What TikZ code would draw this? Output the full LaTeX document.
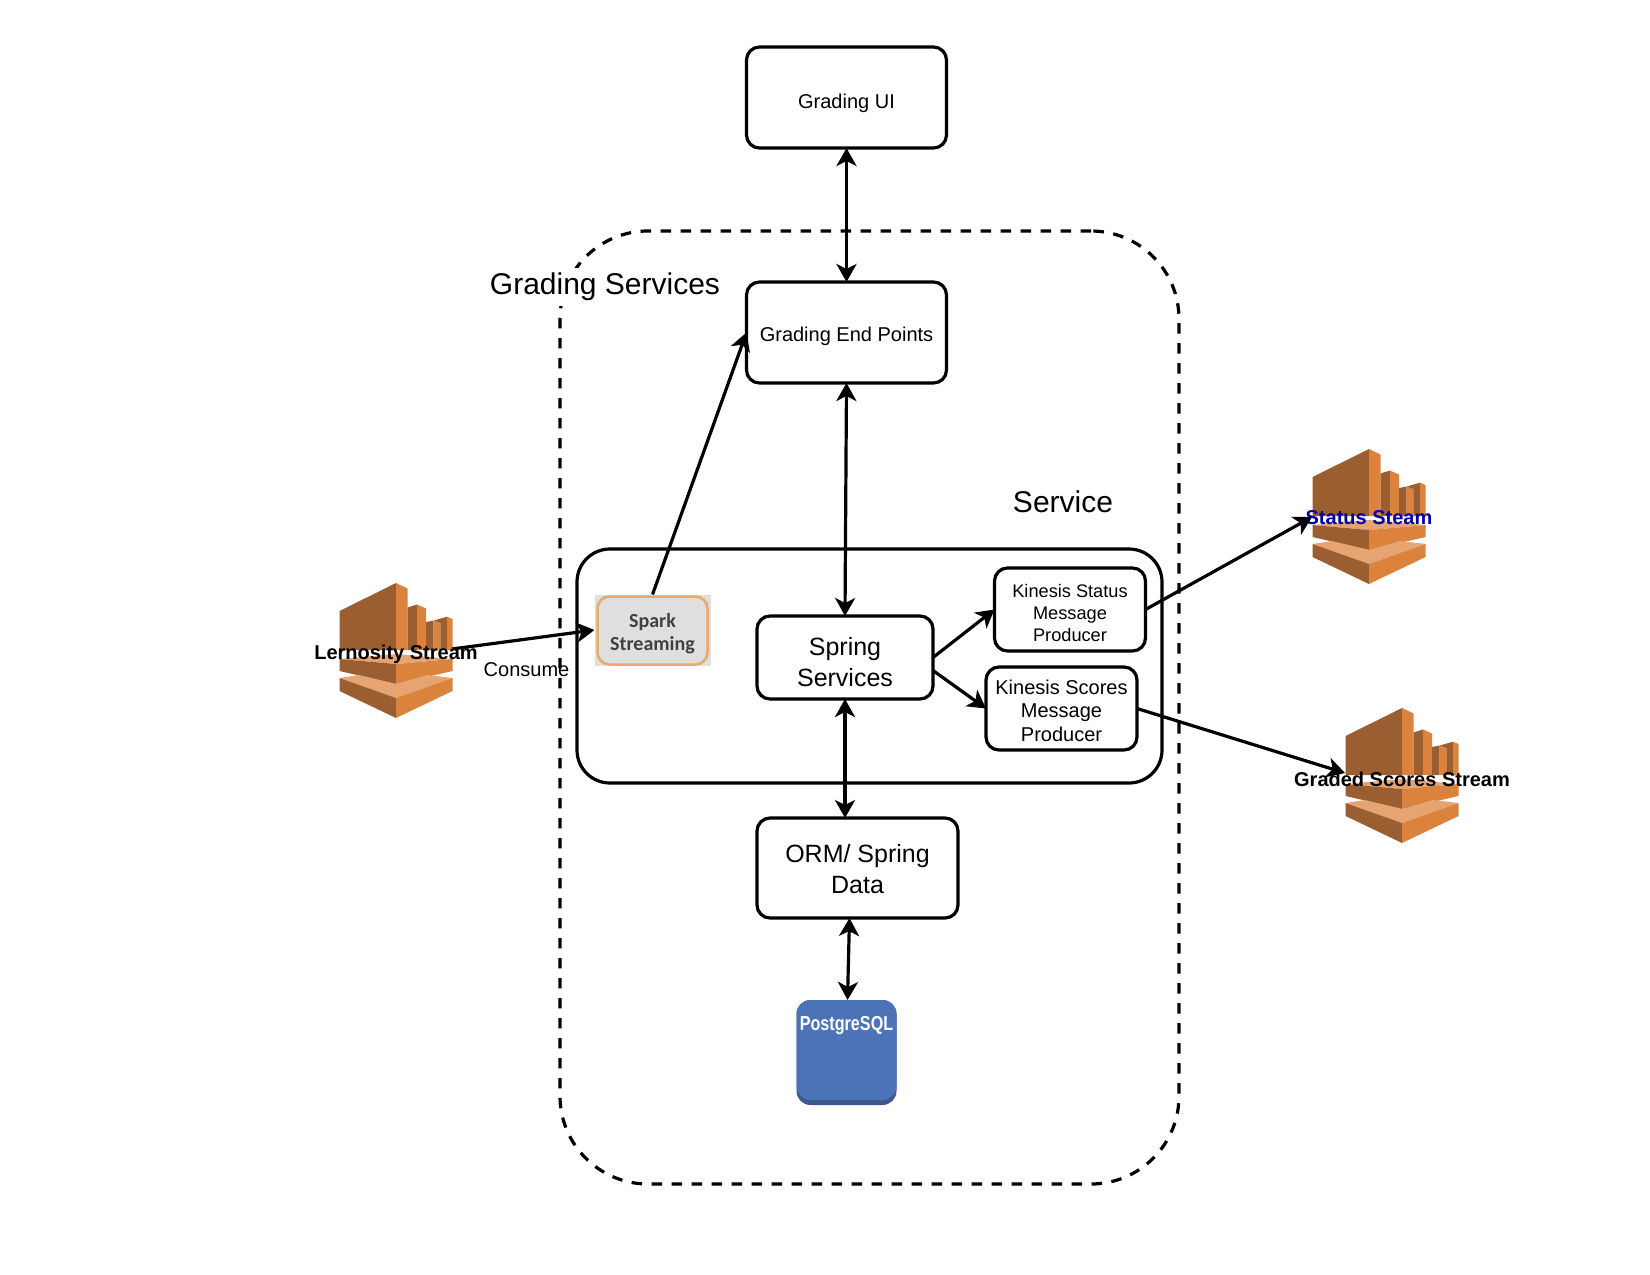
\documentclass[tikz,border=0pt]{standalone}
\usepackage{fontspec}
\setmainfont{Liberation Sans}
\newfontfamily\sparkfont{Carlito}
\newfontfamily\narrowfont[FakeStretch=0.8]{Liberation Sans}
\usetikzlibrary{positioning, arrows.meta}
\definecolor{kinesisdark}{RGB}{154,94,48}
\definecolor{kinesisorange}{RGB}{219,130,60}
\definecolor{kinesislight}{RGB}{229,164,114}
\definecolor{pgblue}{RGB}{76,115,184}
\definecolor{pgshade}{RGB}{60,88,140}
\definecolor{sparkgray}{RGB}{223,223,223}
\definecolor{sparkline}{RGB}{232,170,106}
\definecolor{statusblue}{RGB}{0,0,156}

\tikzset{
    kinesis/.pic={
        \fill[kinesisdark] (-56.5,28) -- (0,0) -- (0,67) -- (-56.5,67) -- cycle;
        \fill[kinesisorange] (0,0) -- (11.5,5.5) -- (11.5,67) -- (0,67) -- cycle;
        \fill[kinesisdark] (11.5,24.5) -- (21,21.5) -- (21,67) -- (11.5,67) -- cycle;
        \fill[kinesisorange] (21,21.5) -- (30,25.5) -- (30,67) -- (21,67) -- cycle;
        \fill[kinesisdark] (30,39) -- (37.7,37.5) -- (37.7,67) -- (30,67) -- cycle;
        \fill[kinesisorange] (37.7,37.5) -- (44.3,40) -- (44.3,67) -- (37.7,67) -- cycle;
        \fill[kinesisdark] (37.7,37.5) -- (51,33.7) -- (51,67) -- (44.3,67) -- (44.3,40) -- cycle;
        \fill[kinesisorange] (51,33.7) -- (56.5,36) -- (56.5,67) -- (51,67) -- cycle;
        % middle layer
        \fill[kinesislight] (-56.5,76) -- (0,71) -- (56.5,76) -- (0,81) -- cycle;
        \fill[kinesisdark] (-56.5,76) -- (0,81) -- (0,101) -- (-56.5,88) -- cycle;
        \fill[kinesisorange] (0,81) -- (56.5,76) -- (56.5,88) -- (0,101) -- cycle;
        % lower layer
        \fill[kinesislight] (-56.5,95) -- (-37,92) -- (0,101) -- (31,92) -- (56.5,95) -- (0,115) -- cycle;
        \fill[kinesisdark] (-56.5,95) -- (0,115) -- (0,135) -- (-56.5,108) -- cycle;
        \fill[kinesisorange] (0,115) -- (56.5,95) -- (56.5,108) -- (0,135) -- cycle;
    }
}

\begin{document}
\begin{tikzpicture}[
    x=1pt, y=-1pt,
    box/.style={rectangle, draw, line width=3.2pt, rounded corners=13pt, align=center, inner sep=0pt, outer sep=0pt},
    bigbox/.style={box, minimum width=200pt, minimum height=101pt, font=\fontsize{20}{23}\selectfont},
    springbox/.style={box, font=\fontsize{25}{30.5}\selectfont},
    producer/.style={box, minimum width=151pt, minimum height=83pt},
    dropped/.style={execute at begin node={\rule{0pt}{#1}}},
    title/.style={font=\fontsize{30}{36}\selectfont},
    streamlabel/.style={inner sep=0pt, font=\fontsize{20}{24}\selectfont\bfseries},
    link/.style={line width=3.2pt, -{Stealth[length=18pt, width=20pt, inset=5pt]}},
    duplex/.style={line width=3.2pt, {Stealth[length=18pt, width=20pt, inset=5pt]}-{Stealth[length=18pt, width=20pt, inset=5pt]}}
]
\useasboundingbox (0,0) rectangle (1650,1275);

% outer dashed group and inner service group
\node[rectangle, draw, line width=3.2pt, rounded corners=88pt, dash pattern=on 10.5pt off 9.5pt, minimum width=619pt, minimum height=953pt, outer sep=0pt] (grading) at (869.5,707.5) {};
\node[rectangle, draw, line width=3.2pt, rounded corners=33pt, minimum width=585pt, minimum height=234pt, outer sep=0pt] (service) at (869.5,666) {};

\node[title, fill=white, inner xsep=1pt, inner ysep=5pt] (grading_label) at (605,287) {Grading Services};
\node[title] (service_label) at (1063,502) {Service};

% main column
\node[bigbox, dropped=26.6pt] (ui) at (846.5,97.5) {Grading UI};
\node[bigbox, dropped=22.6pt, below=134pt of ui] (endpoints) {Grading End Points};
\node[springbox, dropped=57.7pt, minimum width=176pt, minimum height=83pt] (spring) at (845,657.5) {Spring\\Services};
\node[springbox, dropped=50.7pt, minimum width=201pt, minimum height=100pt] (orm) at (857.5,868) {ORM/ Spring\\Data};

% producers
\node[producer, dropped=63.3pt, font=\fontsize{18.2}{22}\selectfont] (status_prod) at (1070,609.5) {Kinesis Status\\Message\\Producer};
\node[producer, dropped=65.2pt, font=\fontsize{20}{23.3}\selectfont] (scores_prod) at (1061.5,708.5) {Kinesis Scores\\Message\\Producer};

% spark
\node[rectangle, fill=sparkgray, minimum width=116pt, minimum height=71pt, inner sep=0pt, outer sep=0pt] (spark_bg) at (652.5,630) {};
\node[rectangle, draw=sparkline, line width=2.5pt, rounded corners=12pt, minimum width=110pt, minimum height=68pt, align=center, inner sep=0pt, text=black!75, dropped=43pt, font=\fontsize{20}{23}\sparkfont\bfseries] (spark) at (652.5,630.5) {Spark\\Streaming};

% postgres
\node[rectangle, fill=pgshade, rounded corners=14pt, minimum width=100pt, minimum height=105pt, outer sep=0pt] (pg_base) at (846.5,1052.5) {};
\node[rectangle, fill=pgblue, rounded corners=14pt, minimum width=100pt, minimum height=100pt, outer sep=0pt] (pg) at (846.5,1050) {};
\node[below=16.5pt of pg.north, inner sep=0pt, text=white, font=\fontsize{20.2}{25}\narrowfont\bfseries] (pg_label) {PostgreSQL};

% kinesis streams
\pic (lernosity_icon) at (396,583) {kinesis};
\pic (status_icon) at (1369,449) {kinesis};
\pic (graded_icon) at (1402,708) {kinesis};
\node[streamlabel] (lernosity) at (396,654) {Lernosity Stream};
\node[streamlabel, text=statusblue] (status) at (1369,518) {Status Steam};
\node[streamlabel] (graded) at (1402,779) {Graded Scores Stream};
\node[font=\fontsize{20}{24}\selectfont, inner sep=0pt] (consume) at (526.5,670) {Consume};

\coordinate (lernosity_out) at (452,649);
\coordinate (status_in) at (1312,517);
\coordinate (graded_in) at (1345,773);

% connectors
\draw[duplex] (ui.south) -- (endpoints.north);
\draw[duplex] (endpoints.south) -- (spring.north);
\draw[duplex] (spring.south) -- (spring.south |- orm.north);
\draw[duplex] ([xshift=-8pt]orm.south) -- ([xshift=1pt]pg.north);
\draw[link] (spring.east) -- (status_prod.west);
\draw[link] ([yshift=-13pt]spring.east) -- (scores_prod.west);
\draw[link] (spark_bg.north) -- (endpoints.west);
\draw[link] (lernosity_out) -- (spark_bg.west);
\draw[link] (status_prod.east) -- (status_in);
\draw[link] (scores_prod.east) -- (graded_in);

\end{tikzpicture}
\end{document}
